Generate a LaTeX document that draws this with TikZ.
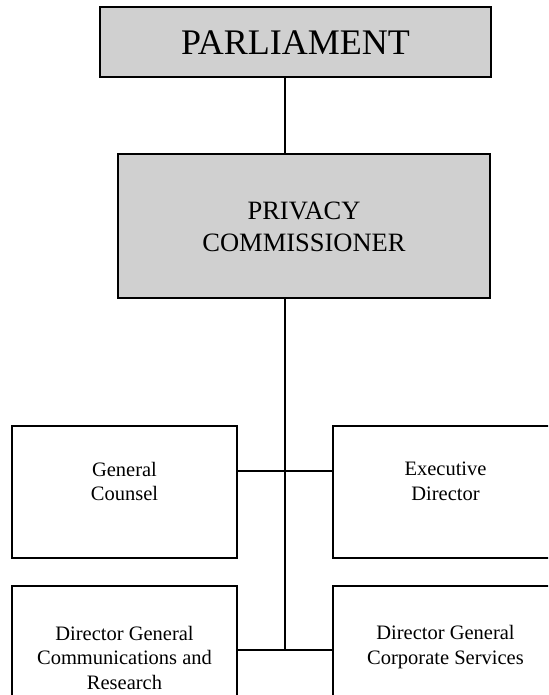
\documentclass[tikz,border=0pt]{standalone}
\usepackage{fontspec}
\setmainfont{Liberation Serif}
\definecolor{boxgray}{RGB}{208,208,208}
\begin{document}
\begin{tikzpicture}[x=1pt,y=-1pt,
  box/.style={draw=black, line width=1.5pt, inner sep=0pt, rectangle},
  graybox/.style={box, fill=boxgray},
  conn/.style={draw=black, line width=1.4pt},
  bigtxt/.style={font=\fontsize{36}{40}\selectfont, inner sep=0pt},
  midtxt/.style={font=\fontsize{26.5}{32}\selectfont, align=center, inner sep=0pt},
  smltxt/.style={font=\fontsize{20.5}{24.5}\selectfont, align=center, inner sep=0pt}]
\fill[white] (0,0) rectangle (548,695);
\useasboundingbox (0,0) rectangle (548,695);
\clip (0,0) rectangle (548,695);
% boxes
\node[graybox, minimum width=391pt, minimum height=70pt] (parl) at (295.5,42) {};
\node[graybox, minimum width=372pt, minimum height=144pt] (priv) at (304,226) {};
\node[box, minimum width=225pt, minimum height=132pt] (gc) at (124.5,492) {};
\node[box, minimum width=225pt, minimum height=132pt] (ed) at (445.5,492) {};
\node[box, minimum width=225pt, minimum height=132pt] (dgc) at (124.5,652) {};
\node[box, minimum width=225pt, minimum height=132pt] (dgcs) at (445.5,652) {};
% texts
\node[bigtxt, anchor=base] (parlt) at (295.5,55) {PARLIAMENT};
\node[midtxt] (privt) at (304,227) {PRIVACY\\COMMISSIONER};
\node[smltxt] (gct) at (124.5,481.5) {General\\Counsel};
\node[smltxt] (edt) at (445.5,481.5) {Executive\\Director};
\node[smltxt] (dgct) at (124.5,657.5) {Director General\\Communications and\\Research};
\node[smltxt] (dgcst) at (445.5,647) {Director General\\Corporate Services};
% connectors
\coordinate (j1) at (285,471);
\coordinate (j2) at (285,650);
\draw[conn] (parl.south -| j1) -- (priv.north -| j1);
\draw[conn] (priv.south -| j1) -- (j2);
\draw[conn] (gc.east |- j1) -- (ed.west |- j1);
\draw[conn] (dgc.east |- j2) -- (dgcs.west |- j2);
\end{tikzpicture}
\end{document}
